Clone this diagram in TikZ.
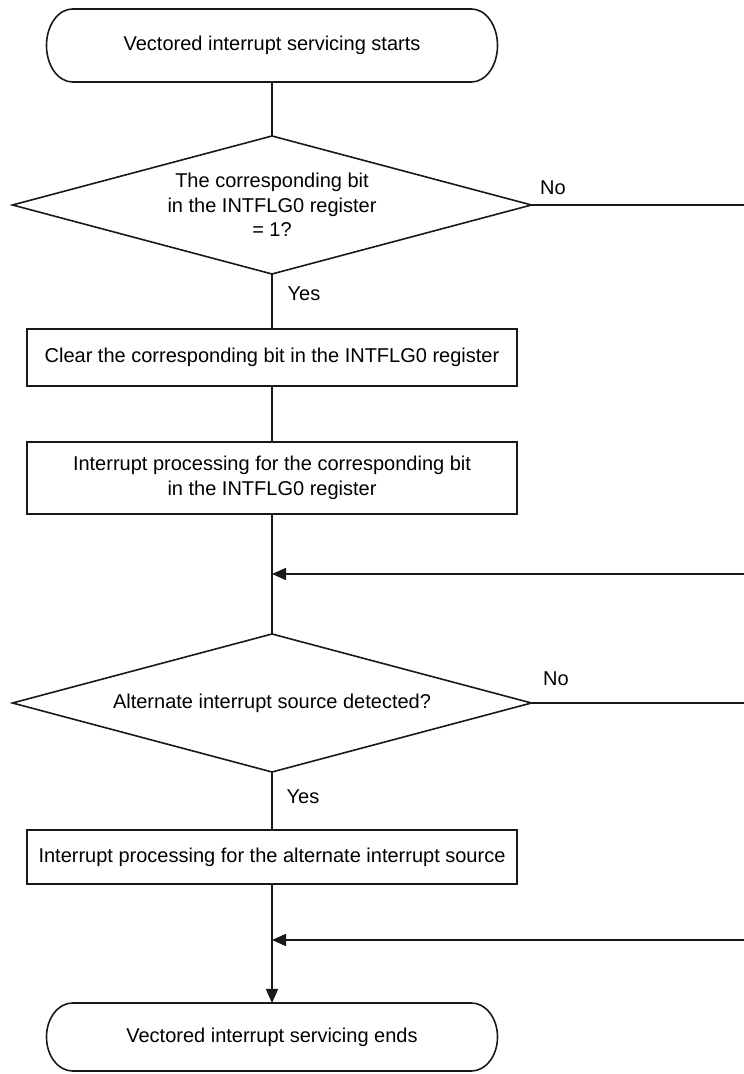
\documentclass[tikz,border=0pt]{standalone}
\usepackage{fontspec}
\setmainfont{Liberation Sans}
\usetikzlibrary{arrows.meta}
\begin{document}
\begin{tikzpicture}[x=1pt,y=1pt,
  line/.style={line width=1.6pt, draw=black!90},
  txt/.style={inner sep=0pt, outer sep=0pt, align=center, font=\fontsize{20}{24.5}\selectfont},
  procbox/.style={txt, draw=black!90, line width=1.6pt, minimum width=490pt},
  arr/.style={line, -{Triangle[length=14pt,width=12pt]}},
  lbl/.style={inner sep=0pt, font=\fontsize{20}{24}\selectfont}]
\useasboundingbox (0,0) rectangle (744,1074);
% terminals
\node[txt, minimum width=451pt, minimum height=73pt] (start) at (272,1028.5) {Vectored interrupt servicing starts};
\draw[line] ([xshift=26pt]start.north west) -- ([xshift=-26pt]start.north east)
  arc[start angle=90,end angle=-90,x radius=26pt,y radius=36.5pt]
  -- ([xshift=26pt]start.south west)
  arc[start angle=270,end angle=90,x radius=26pt,y radius=36.5pt] -- cycle;
\node[txt, minimum width=451pt, minimum height=68pt] (end) at (272,37) {Vectored interrupt servicing ends};
\draw[line] ([xshift=26pt]end.north west) -- ([xshift=-26pt]end.north east)
  arc[start angle=90,end angle=-90,x radius=26pt,y radius=34pt]
  -- ([xshift=26pt]end.south west)
  arc[start angle=270,end angle=90,x radius=26pt,y radius=34pt] -- cycle;
% decisions
\node[txt, minimum width=519pt, minimum height=138pt] (d1) at (272,869) {The corresponding bit\\in the INTFLG0 register\\= 1?};
\draw[line] (d1.north) -- (d1.east) -- (d1.south) -- (d1.west) -- cycle;
\node[txt, minimum width=519pt, minimum height=138pt] (d2) at (272,371) {Alternate interrupt source detected?};
\draw[line] (d2.north) -- (d2.east) -- (d2.south) -- (d2.west) -- cycle;
% process boxes
\node[procbox, minimum height=57pt] (b1) at (272,716.5) {Clear the corresponding bit in the INTFLG0 register};
\node[procbox, minimum height=72pt] (b2) at (272,596) {Interrupt processing for the corresponding bit\\in the INTFLG0 register};
\node[procbox, minimum height=54pt] (b3) at (272,217) {Interrupt processing for the alternate interrupt source};
% edge coordinates
\coordinate (r1) at (744,869);
\coordinate (r2) at (744,371);
\coordinate (r3) at (744,500);
\coordinate (r4) at (744,134);
\coordinate (j1) at (272,500);
\coordinate (j2) at (272,134);
% connectors
\draw[line] (start.south) -- (d1.north);
\draw[line] (d1.south) -- (b1.north);
\draw[line] (b1.south) -- (b2.north);
\draw[line] (b2.south) -- (d2.north);
\draw[line] (d2.south) -- (b3.north);
\draw[arr] (b3.south) -- (end.north);
\draw[line] (d1.east) -- (r1);
\draw[line] (d2.east) -- (r2);
\draw[arr] (r3) -- (j1);
\draw[arr] (r4) -- (j2);
% labels
\node[lbl] (no1) at (553,886) {No};
\node[lbl] (no2) at (556,395) {No};
\node[lbl] (yes1) at (304,780) {Yes};
\node[lbl] (yes2) at (303,277) {Yes};
\end{tikzpicture}
\end{document}
